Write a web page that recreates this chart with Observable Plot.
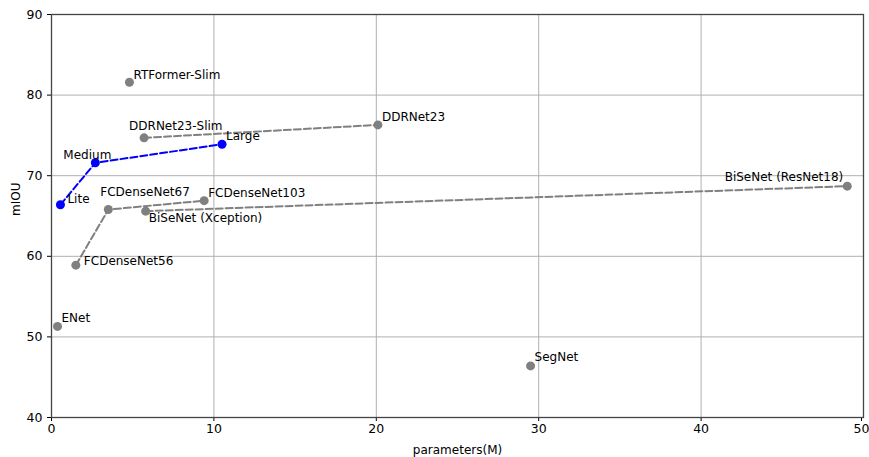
<!DOCTYPE html>
<html>
<head>
<meta charset="utf-8">
<script src="https://cdn.jsdelivr.net/npm/d3@7"></script>
<script src="https://cdn.jsdelivr.net/npm/@observablehq/plot@0.6"></script>
<style>
  html, body { margin: 0; padding: 0; background: #fff; }
  svg { font-family: "DejaVu Sans", sans-serif; }
</style>
</head>
<body>
<div id="chart"></div>
<script>
// Data
const names = ["RTFormer-Slim", "DDRNet23-Slim", "DDRNet23", "Lite", "Medium", "Large",
  "FCDenseNet56", "FCDenseNet67", "FCDenseNet103", "BiSeNet (Xception)", "BiSeNet (ResNet18)", "ENet", "SegNet"];
const params = [4.8, 5.7, 20.1, 0.55, 2.7, 10.5, 1.5, 3.5, 9.4, 5.8, 49.0, 0.37, 29.5];
const miou   = [81.6, 74.7, 76.3, 66.4, 71.6, 73.9, 58.9, 65.8, 66.9, 65.6, 68.7, 51.3, 46.4];
const group  = ["other", "DDRNet", "DDRNet", "ours", "ours", "ours", "FCDenseNet", "FCDenseNet", "FCDenseNet", "BiSeNet", "BiSeNet", "other", "other"];
const xTicks = [0, 10, 20, 30, 40, 50];
const yTicks = [40, 50, 60, 70, 80, 90];

const data = names.map((n, i) => ({name: n, x: params[i], y: miou[i], group: group[i]}));
const lineGroups = ["DDRNet", "FCDenseNet", "BiSeNet"];

// label placement (relative to point)
const labelPlace = {
  "RTFormer-Slim": [4, -7, "start"],
  "DDRNet23-Slim": [-15, -12, "start"],
  "DDRNet23": [4, -8, "start"],
  "Lite": [7, -6, "start"],
  "Medium": [-32, -8, "start"],
  "Large": [4, -8, "start"],
  "FCDenseNet56": [8, -4, "start"],
  "FCDenseNet67": [-8, -17, "start"],
  "FCDenseNet103": [4, -8, "start"],
  "BiSeNet (Xception)": [3, 7, "start"],
  "BiSeNet (ResNet18)": [-4, -9, "end"],
  "ENet": [4, -8, "start"],
  "SegNet": [4, -9, "start"]
};

const textMarks = data.map(d => {
  const [dx, dy, anchor] = labelPlace[d.name];
  return Plot.text([d], {x: "x", y: "y", text: "name", dx, dy, textAnchor: anchor,
    fill: "#000", fontSize: 12});
});

const chart = Plot.plot({
  width: 869,
  height: 457,
  marginLeft: 51,
  marginRight: 6,
  marginTop: 14,
  marginBottom: 40,
  style: {fontFamily: "DejaVu Sans, sans-serif", fontSize: "12px", background: "#fff"},
  x: {domain: [0, 50], ticks: xTicks, label: null},
  y: {domain: [40, 90], ticks: yTicks, label: null},
  marks: [
    Plot.gridX(xTicks, {stroke: "#b0b0b0", strokeOpacity: 1, strokeWidth: 1}),
    Plot.gridY(yTicks, {stroke: "#b0b0b0", strokeOpacity: 1, strokeWidth: 1}),
    Plot.axisX(xTicks.filter(t => t !== 50), {tickSize: 4, stroke: "#000", fill: "#000", fontSize: 12.5, tickPadding: 3, label: null}),
    Plot.axisX([50], {tickSize: 4, stroke: "#000", fill: "#000", fontSize: 12.5, tickPadding: 3, label: null, dx: -2}),
    Plot.axisY(yTicks, {tickSize: 4, stroke: "#000", fill: "#000", fontSize: 12.5, tickPadding: 5, label: null}),
    Plot.text(["parameters(M)"], {frameAnchor: "bottom", dy: 36, fontSize: 12, fill: "#000", lineAnchor: "bottom"}),
    Plot.text(["mIOU"], {frameAnchor: "left", dx: -35, rotate: -90, fontSize: 12, fill: "#000"}),
    ...lineGroups.map(g => Plot.line(data.filter(d => d.group === g), {x: "x", y: "y",
      stroke: "#808080", strokeWidth: 2, strokeDasharray: "7,3"})),
    Plot.line(data.filter(d => d.group === "ours"), {x: "x", y: "y",
      stroke: "#0000ff", strokeWidth: 2, strokeDasharray: "7,3"}),
    Plot.dot(data.filter(d => d.group !== "ours"), {x: "x", y: "y", r: 4.5, fill: "#808080", stroke: "none"}),
    Plot.dot(data.filter(d => d.group === "ours"), {x: "x", y: "y", r: 4.5, fill: "#0000ff", stroke: "none"}),
    ...textMarks,
    Plot.frame({stroke: "#444", strokeWidth: 1.3})
  ]
});
document.getElementById("chart").appendChild(chart);
</script>
</body>
</html>
